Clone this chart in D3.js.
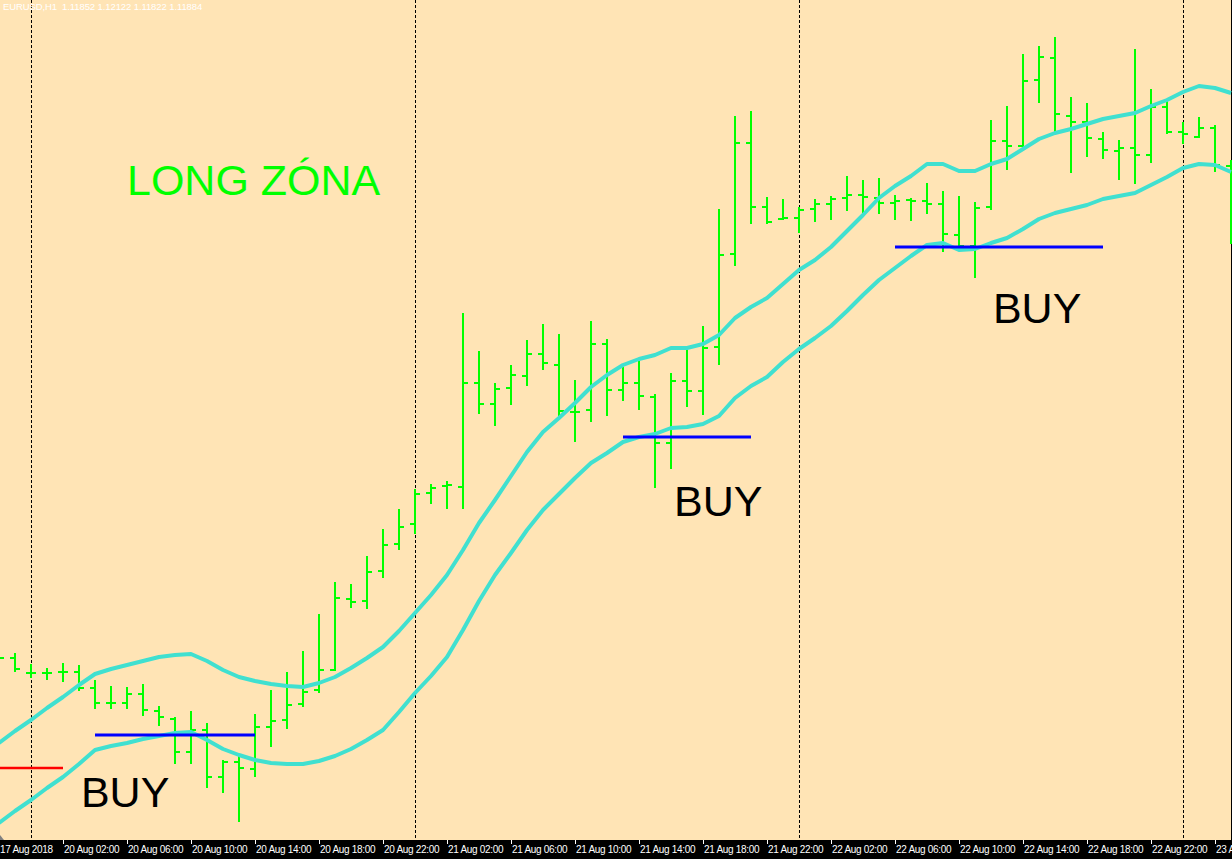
<!DOCTYPE html>
<html>
<head>
<meta charset="utf-8">
<script src="https://cdn.jsdelivr.net/npm/d3@7"></script>
<style>
  html, body { margin: 0; padding: 0; background: #FFE4B5; overflow: hidden; }
  svg { display: block; }
</style>
</head>
<body>
<svg id="chart" width="1232" height="859"></svg>
<script>
// ---------------- DATA (EURUSD, H1) ----------------
// bar indices: -2 = 17 Aug 22:00, 0 = 20 Aug 00:00, ... 75 = 23 Aug 03:00
const firstBar = -2;
const open = [1.15088,1.15084,1.15054,1.15054,1.15056,1.15056,1.15024,1.14994,1.14994,1.15012,
  1.14978,1.14962,1.14896,1.14940,1.14846,1.14876,1.14862,1.14946,1.14960,1.14992,
  1.15020,1.15060,1.15202,1.15198,1.15258,1.15312,1.15352,1.15414,1.15428,1.15426,
  1.15634,1.15592,1.15624,1.15648,1.15692,1.15670,1.15576,1.15580,1.15712,1.15620,
  1.15634,1.15606,1.15514,1.15638,1.15618,1.15706,1.15892,1.16114,1.15986,1.15962,
  1.15964,1.15982,1.15992,1.16004,1.16010,1.16004,1.15994,1.16000,1.15998,1.15992,
  1.15930,1.15908,1.15986,1.16118,1.16108,1.16240,1.16284,1.16168,1.16156,1.16122,
  1.16098,1.16104,1.16090,1.16186,1.16136,1.16126,1.16144,1.16068];
const high = [1.15096,1.15092,1.15070,1.15062,1.15072,1.15068,1.15038,1.15026,1.15024,1.15030,
  1.14986,1.14964,1.14976,1.14952,1.14878,1.14886,1.14970,1.15018,1.15054,1.15096,
  1.15170,1.15234,1.15230,1.15286,1.15340,1.15380,1.15420,1.15430,1.15436,1.15772,
  1.15696,1.15632,1.15668,1.15718,1.15750,1.15730,1.15638,1.15756,1.15720,1.15664,
  1.15676,1.15610,1.15652,1.15698,1.15746,1.15980,1.16166,1.16176,1.16004,1.16000,
  1.15984,1.16000,1.16006,1.16046,1.16038,1.16042,1.16008,1.16002,1.16032,1.16016,
  1.16006,1.15994,1.16158,1.16186,1.16290,1.16306,1.16324,1.16204,1.16192,1.16134,
  1.16118,1.16300,1.16220,1.16196,1.16154,1.16164,1.16148,1.16078];
const low = [1.15072,1.15058,1.15046,1.15042,1.15038,1.15020,1.14984,1.14984,1.14984,1.14970,
  1.14950,1.14874,1.14874,1.14826,1.14816,1.14758,1.14848,1.14908,1.14944,1.14988,
  1.15016,1.15060,1.15186,1.15184,1.15246,1.15302,1.15334,1.15394,1.15384,1.15384,
  1.15574,1.15550,1.15592,1.15630,1.15662,1.15570,1.15518,1.15558,1.15570,1.15600,
  1.15582,1.15426,1.15464,1.15588,1.15572,1.15672,1.15870,1.15954,1.15954,1.15962,
  1.15936,1.15958,1.15962,1.15980,1.15974,1.15974,1.15962,1.15960,1.15974,1.15898,
  1.15906,1.15846,1.15982,1.16062,1.16108,1.16196,1.16136,1.16056,1.16088,1.16084,
  1.16042,1.16034,1.16076,1.16134,1.16114,1.16126,1.16058,1.15914];
const close = [1.15084,1.15062,1.15054,1.15054,1.15056,1.15024,1.14994,1.14994,1.15012,1.14980,
  1.14966,1.14896,1.14940,1.14846,1.14876,1.14864,1.14946,1.14958,1.14990,1.15016,
  1.15060,1.15204,1.15196,1.15256,1.15310,1.15346,1.15412,1.15424,1.15430,1.15634,
  1.15592,1.15622,1.15650,1.15692,1.15674,1.15578,1.15576,1.15712,1.15620,1.15634,
  1.15608,1.15514,1.15638,1.15618,1.15704,1.15890,1.16114,1.15986,1.15956,1.15964,
  1.15980,1.15992,1.16002,1.16010,1.16006,1.15994,1.15998,1.15998,1.15992,1.15932,
  1.15908,1.15984,1.16118,1.16108,1.16238,1.16286,1.16172,1.16156,1.16124,1.16100,
  1.16104,1.16090,1.16186,1.16136,1.16132,1.16144,1.16070,1.15920];
// cyan band (upper / lower moving averages)
const maUpper = [1.14914,1.14938,1.14960,1.14984,1.15006,1.15030,1.15052,1.15062,1.15070,1.15078,
  1.15086,1.15090,1.15092,1.15078,1.15060,1.15046,1.15038,1.15032,1.15028,1.15026,
  1.15034,1.15046,1.15064,1.15084,1.15106,1.15138,1.15174,1.15210,1.15250,1.15300,
  1.15354,1.15400,1.15448,1.15496,1.15536,1.15564,1.15594,1.15626,1.15650,1.15670,
  1.15682,1.15690,1.15704,1.15704,1.15712,1.15730,1.15764,1.15786,1.15804,1.15832,
  1.15860,1.15880,1.15906,1.15938,1.15970,1.16004,1.16028,1.16048,1.16072,1.16072,
  1.16058,1.16058,1.16072,1.16082,1.16102,1.16122,1.16134,1.16142,1.16152,1.16162,
  1.16168,1.16174,1.16188,1.16200,1.16216,1.16228,1.16224,1.16214];
const maLower = [1.14754,1.14778,1.14800,1.14824,1.14846,1.14872,1.14900,1.14908,1.14914,1.14922,
  1.14928,1.14934,1.14936,1.14920,1.14902,1.14890,1.14880,1.14874,1.14872,1.14872,
  1.14878,1.14888,1.14902,1.14920,1.14940,1.14976,1.15014,1.15048,1.15086,1.15140,
  1.15198,1.15250,1.15294,1.15340,1.15380,1.15412,1.15444,1.15474,1.15494,1.15516,
  1.15526,1.15532,1.15544,1.15546,1.15552,1.15568,1.15604,1.15628,1.15646,1.15676,
  1.15702,1.15724,1.15748,1.15778,1.15810,1.15840,1.15864,1.15888,1.15910,1.15914,
  1.15900,1.15902,1.15914,1.15924,1.15942,1.15962,1.15974,1.15982,1.15990,1.16002,
  1.16008,1.16014,1.16030,1.16046,1.16064,1.16072,1.16070,1.16056];
// horizontal levels drawn on the chart
const levelPrice = [1.14864, 1.14930, 1.15526, 1.15906];
const levelFrom  = [-2, 4, 37, 54];
const levelTo    = [2, 14, 45, 67];
const levelColor = ["#FF0000", "#0000FF", "#0000FF", "#0000FF"];
const levelWidth = [2.5, 3, 3, 3];
// text annotations
const noteText  = ["LONG ZÓNA", "BUY", "BUY", "BUY"];
const noteBar   = [6.0, 3.12, 40.19, 60.12];
const notePrice = [1.16010, 1.14786, 1.15368, 1.15754];
const noteColor = ["#00FF00", "#000000", "#000000", "#000000"];
// time axis
const tickBars   = [-2, 2, 6, 10, 14, 18, 22, 26, 30, 34, 38, 42, 46, 50, 54, 58, 62, 66, 70, 74];
const tickLabels = ["17 Aug 2018", "20 Aug 02:00", "20 Aug 06:00", "20 Aug 10:00", "20 Aug 14:00",
  "20 Aug 18:00", "20 Aug 22:00", "21 Aug 02:00", "21 Aug 06:00", "21 Aug 10:00", "21 Aug 14:00",
  "21 Aug 18:00", "21 Aug 22:00", "22 Aug 02:00", "22 Aug 06:00", "22 Aug 10:00", "22 Aug 14:00",
  "22 Aug 18:00", "22 Aug 22:00", "23 Aug 02:00"];
const daySeparators = [0, 24, 48, 72];
const header = "EURUSD,H1  1.11852 1.12122 1.11822 1.11884";

// ---------------- DRAW ----------------
const W = 1232, H = 859, plotBottom = 840;
const svg = d3.select("#chart");
const lastBar = firstBar + open.length - 1;
const x = d3.scaleLinear().domain([firstBar, lastBar]).range([-1, 1231]);
const y = d3.scaleLinear().domain([1.14682, 1.16400]).range([859, 0]);

const bars = open.map((o, i) => ({ i: firstBar + i, o, h: high[i], l: low[i], c: close[i] }));

svg.append("rect").attr("x", 0).attr("y", 0).attr("width", W).attr("height", plotBottom).attr("fill", "#FFE4B5");

// day separators
svg.append("g").selectAll("line").data(daySeparators).join("line")
  .attr("x1", d => x(d) + 0.5).attr("x2", d => x(d) + 0.5)
  .attr("y1", 0).attr("y2", plotBottom)
  .attr("stroke", "#000").attr("stroke-width", 1).attr("stroke-dasharray", "3,2");

// right border
svg.append("line").attr("x1", 1231.5).attr("x2", 1231.5).attr("y1", 0).attr("y2", plotBottom)
  .attr("stroke", "#000").attr("stroke-width", 1);

// OHLC bars
const gb = svg.append("g").attr("stroke", "#00FF00").attr("stroke-width", 2).attr("shape-rendering", "crispEdges");
gb.selectAll("line.v").data(bars).join("line").attr("class", "v")
  .attr("x1", d => x(d.i)).attr("x2", d => x(d.i))
  .attr("y1", d => y(d.h) - 1).attr("y2", d => y(d.l) + 1);
gb.selectAll("line.o").data(bars).join("line").attr("class", "o")
  .attr("x1", d => x(d.i) - 5).attr("x2", d => x(d.i))
  .attr("y1", d => y(d.o)).attr("y2", d => y(d.o));
gb.selectAll("line.c").data(bars).join("line").attr("class", "c")
  .attr("x1", d => x(d.i)).attr("x2", d => x(d.i) + 5)
  .attr("y1", d => y(d.c)).attr("y2", d => y(d.c));

// moving average band
const line = d3.line().x((d, i) => x(firstBar + i)).y(d => y(d));
[maUpper, maLower].forEach(s => {
  svg.append("path").datum(s).attr("d", line)
    .attr("fill", "none").attr("stroke", "#40E0D0").attr("stroke-width", 4)
    .attr("stroke-linejoin", "round");
});

// horizontal levels
svg.append("g").selectAll("line").data(levelPrice).join("line")
  .attr("x1", (d, i) => x(levelFrom[i])).attr("x2", (d, i) => x(levelTo[i]))
  .attr("y1", d => y(d)).attr("y2", d => y(d))
  .attr("stroke", (d, i) => levelColor[i]).attr("stroke-width", (d, i) => levelWidth[i]);

// annotations
svg.append("g").selectAll("text").data(noteText).join("text")
  .attr("x", (d, i) => x(noteBar[i])).attr("y", (d, i) => y(notePrice[i]))
  .attr("fill", (d, i) => noteColor[i])
  .attr("font-family", "'Liberation Sans', Arial, sans-serif")
  .attr("font-size", 43)
  .text(d => d);

// header
svg.append("text").attr("x", 3).attr("y", 10)
  .attr("fill", "#FFFFFF").attr("font-family", "'Liberation Sans', Arial, sans-serif")
  .attr("font-size", 9.5).attr("letter-spacing", -0.1)
  .style("white-space", "pre")
  .text(header);

// time axis band
svg.append("rect").attr("x", 0).attr("y", plotBottom).attr("width", W).attr("height", H - plotBottom).attr("fill", "#000");
const ga = svg.append("g");
ga.selectAll("line").data(tickBars).join("line")
  .attr("x1", d => x(d) + 0.5).attr("x2", d => x(d) + 0.5)
  .attr("y1", plotBottom).attr("y2", plotBottom + 4)
  .attr("stroke", "#FFFFFF").attr("stroke-width", 1);
ga.selectAll("text").data(tickLabels).join("text")
  .attr("x", (d, i) => x(tickBars[i]) + 1).attr("y", 853)
  .attr("fill", "#FFFFFF").attr("font-family", "'Liberation Sans', Arial, sans-serif")
  .attr("font-size", 10).attr("letter-spacing", -0.3)
  .text(d => d);

// chart-shift marker
svg.append("path").attr("d", "M0,835 L4,840 L0,840 Z").attr("fill", "#808080");
</script>
</body>
</html>
